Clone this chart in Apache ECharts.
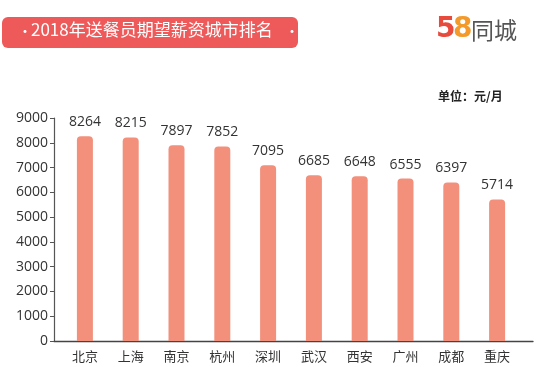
<!DOCTYPE html>
<html><head><meta charset="utf-8">
<script src="https://cdn.jsdelivr.net/npm/echarts@6/dist/echarts.min.js"></script>
<style>html,body{margin:0;padding:0;background:#fff}#c{width:543px;height:367px}</style>
</head><body><div id="c"></div>
<script>
const categories = ['北京','上海','南京','杭州','深圳','武汉','西安','广州','成都','重庆'];
const salaries = [8264, 8215, 7897, 7852, 7095, 6685, 6648, 6555, 6397, 5714];
const yTicks = [0,1000,2000,3000,4000,5000,6000,7000,8000,9000];
const titleText = '2018年送餐员期望薪资城市排名';
const unitText = '单位：元/月';

const chart = echarts.init(document.getElementById('c'));
const font = '"Noto Sans CJK SC", "Noto Sans", sans-serif';
chart.setOption({
  animation: false,
  graphic: [
    { type: 'rect', left: 2, top: 17, shape: { width: 296, height: 31, r: 6 }, style: { fill: '#EE5959' } },
    { type: 'text', left: 18, top: 24, style: { text: '•', fill: '#fff', font: '14px ' + font } },
    { type: 'text', left: 285, top: 24, style: { text: '•', fill: '#fff', font: '14px ' + font } },
    { type: 'text', left: 31, top: 21, style: { text: titleText, fill: '#fff', font: '17px ' + font } },
    { type: 'text', left: 436, top: 16, style: { text: '5', fill: '#E84A3C', font: 'bold 28px "DejaVu Sans", sans-serif' } },
    { type: 'text', left: 453, top: 16, style: { text: '8', fill: '#F39A2B', font: 'bold 28px "DejaVu Sans", sans-serif' } },
    { type: 'text', left: 471, top: 19, style: { text: '同城', fill: '#555', font: '23px ' + font } },
    { type: 'text', left: 438, top: 90, style: { text: unitText, fill: '#222', font: 'bold 12px ' + font } }
  ],
  grid: [
    { left: 62, right: 23, top: 118, bottom: 26 },
    { left: 54, right: 10, top: 118, bottom: 26 }
  ],
  xAxis: [
    { type: 'category', data: categories, gridIndex: 0,
      axisLine: { show: false }, axisTick: { show: false },
      axisLabel: { color: '#333', fontSize: 13, fontFamily: font, margin: 9 } },
    { type: 'category', data: [''], gridIndex: 1,
      axisLine: { show: true, lineStyle: { color: '#444', width: 1.3 } },
      axisTick: { show: false }, axisLabel: { show: false } }
  ],
  yAxis: [
    { type: 'value', gridIndex: 0, min: 0, max: 9000, interval: 1000, offset: 8,
      splitLine: { show: false },
      axisLine: { show: true, lineStyle: { color: '#555', width: 1.2 } },
      axisTick: { show: true, length: 4, lineStyle: { color: '#555' } },
      axisLabel: { color: '#333', fontSize: 14, fontFamily: '"Open Sans", sans-serif', margin: 6,
        formatter: v => yTicks.includes(v) ? String(v) : '' } },
    { type: 'value', gridIndex: 1, show: false, min: 0, max: 9000 }
  ],
  series: [{
    type: 'bar', xAxisIndex: 0, yAxisIndex: 0, data: salaries, barWidth: 16,
    itemStyle: { color: '#F2907C', borderRadius: [4, 4, 0, 0] },
    label: { show: true, position: 'top', distance: 7, color: '#333', fontSize: 14,
      fontFamily: '"Open Sans", sans-serif' }
  }]
});
</script></body></html>
